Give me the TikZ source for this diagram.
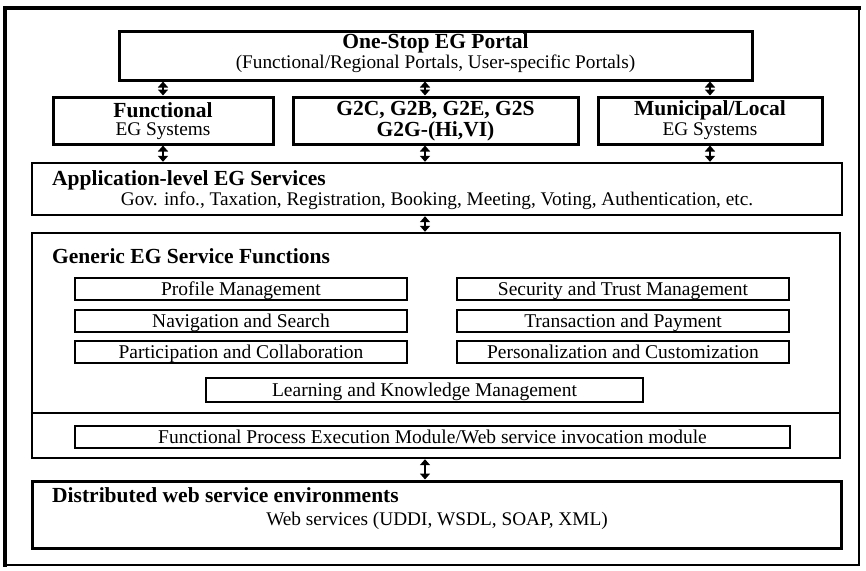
\documentclass[tikz,border=0pt]{standalone}
\usepackage{fontspec}
\setmainfont{Liberation Serif}
\usetikzlibrary{arrows.meta,calc}
\begin{document}
\begin{tikzpicture}[x=1pt,y=-1pt,
  box/.style={draw,line width=3pt,rectangle,inner sep=0pt},
  panel/.style={draw,line width=2.4pt,rectangle,inner sep=0pt},
  item/.style={draw,line width=1.3pt,rectangle,inner sep=0pt,minimum width=332pt,minimum height=22pt,
    text height=15pt,text depth=3pt,font=\fontsize{19.5}{19.5}\selectfont},
  ttl/.style={font=\fontsize{21.5}{21.5}\bfseries\selectfont,inner sep=0pt},
  sub/.style={font=\fontsize{19.3}{19.3}\selectfont,inner sep=0pt},
  arr/.style={line width=2.8pt,{Triangle[length=6pt,width=10pt]}-{Triangle[length=6pt,width=10pt]}}]
\useasboundingbox (0,0) rectangle (866,570);
\fill[white] (0,0) rectangle (866,570);
% outer frame
\draw[line width=2.5pt] (6,8) rectangle (859,565);
\draw[line width=4.5pt] (5,6) -- (5,567);
\draw[line width=4pt] (3,8) -- (861,8);
% portal
\node[box,minimum width=633pt,minimum height=49pt] (portal) at (435.5,55.5) {};
\node[ttl] (portalT) at (435.5,43) {One-Stop EG Portal};
\node[sub] (portalS) at (435.5,64) {(Functional/Regional Portals, User-specific Portals)};
% second row
\node[box,minimum width=220pt,minimum height=47pt] (fes) at (163,120.5) {};
\node[ttl] at (163,110) {Functional};
\node[sub] at (163,131) {EG Systems};
\node[box,minimum width=285pt,minimum height=47pt] (g2) at (435.5,120.5) {};
\node[ttl] at (435.5,110) {G2C, G2B, G2E, G2S};
\node[ttl] at (435.5,131) {G2G-(Hi,VI)};
\node[box,minimum width=224pt,minimum height=47pt] (mun) at (710,120.5) {};
\node[ttl] at (710,110) {Municipal/Local};
\node[sub] at (710,131) {EG Systems};
% application services
\node[panel,minimum width=810pt,minimum height=52pt] (app) at (437,189) {};
\node[ttl,anchor=west] at (52,180) {Application-level EG Services};
\node[sub] at (437,201) {Gov. info., Taxation, Registration, Booking, Meeting, Voting, Authentication, etc.};
% generic service functions
\node[panel,minimum width=808pt,minimum height=225pt] (gen) at (436,345.5) {};
\draw[line width=1.3pt] (gen.west |- 0,413) -- (gen.east |- 0,413);
\node[ttl,anchor=west] at (52,256) {Generic EG Service Functions};
\node[item] (pm) at (241,289) {Profile Management};
\node[item] (ns) at (241,321) {Navigation and Search};
\node[item] (pc) at (241,352) {Participation and Collaboration};
\node[item] (st) at (623,289) {Security and Trust Management};
\node[item] (tp) at (623,321) {Transaction and Payment};
\node[item] (pz) at (623,352) {Personalization and Customization};
\node[item,minimum width=437pt,minimum height=24pt] (lk) at (424.5,390) {Learning and Knowledge Management};
\node[item,minimum width=715pt] (fp) at (432.5,437) {Functional Process Execution Module/Web service invocation module};
% distributed environments
\node[box,minimum width=809pt,minimum height=67pt] (dws) at (436.5,514.5) {};
\node[ttl,anchor=west] at (52,495) {Distributed web service environments};
\node[sub] at (437,521) {Web services (UDDI, WSDL, SOAP, XML)};
% connectors
\coordinate (mx) at (425,0);
\draw[arr] (portal.south -| fes) -- (fes.north);
\draw[arr] (portal.south -| mx) -- (g2.north -| mx);
\draw[arr] (portal.south -| mun) -- (mun.north);
\draw[arr] (fes.south) -- (app.north -| fes);
\draw[arr] (g2.south -| mx) -- (app.north -| mx);
\draw[arr] (mun.south) -- (app.north -| mun);
\draw[arr] (app.south -| mx) -- (gen.north -| mx);
\draw[arr] (gen.south -| mx) -- (dws.north -| mx);
\end{tikzpicture}
\end{document}
